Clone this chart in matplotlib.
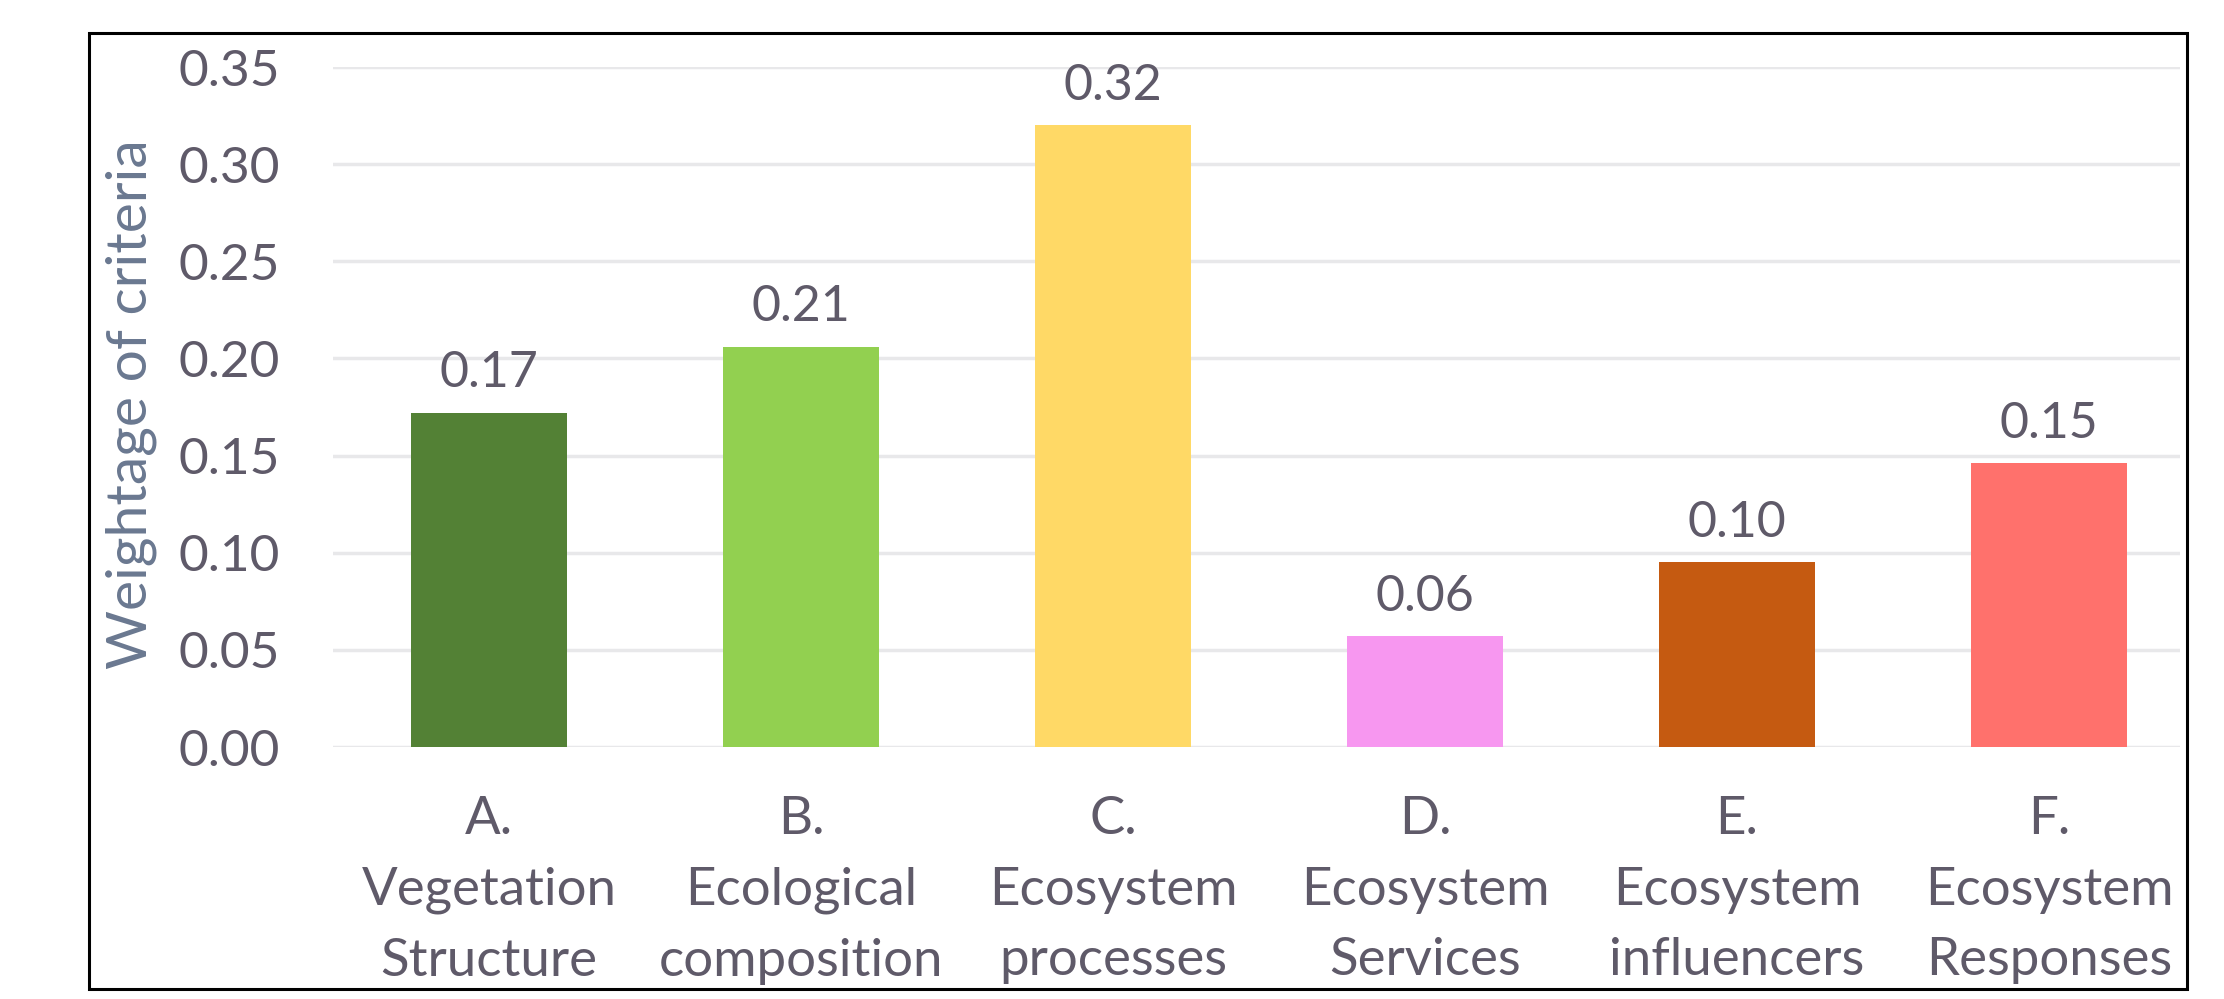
import matplotlib
matplotlib.use("Agg")
import matplotlib.pyplot as plt
from matplotlib.patches import Rectangle

categories = ["A.\nVegetation\nStructure", "B.\nEcological\ncomposition", "C.\nEcosystem\nprocesses",
              "D.\nEcosystem\nServices", "E.\nEcosystem\ninfluencers", "F.\nEcosystem\nResponses"]
values = [0.172, 0.206, 0.320, 0.057, 0.095, 0.146]
value_labels = ["0.17", "0.21", "0.32", "0.06", "0.10", "0.15"]
colors = ["#538135", "#92D050", "#FFD966", "#F797F0", "#C55A11", "#FF716C"]
yticks = [0.00, 0.05, 0.10, 0.15, 0.20, 0.25, 0.30, 0.35]

plt.rcParams['font.family'] = ['Lato', 'DejaVu Sans']
text_color = "#5F5A69"

W, H = 2224, 999
fig = plt.figure(figsize=(W / 100, H / 100), dpi=100)
fig.patch.set_facecolor("white")

# outer frame
fig.patches.append(Rectangle((89 / W, 1 - 989 / H), (2187 - 89) / W, (989 - 33) / H,
                             transform=fig.transFigure, fill=False, edgecolor="black", linewidth=2.2))

ax = fig.add_axes([333 / W, 252 / H, (2180 - 333) / W, (932 - 252) / H])
x = list(range(len(categories)))
ax.bar(x, values, width=0.5, color=colors, zorder=3)
ax.set_xlim(-0.5, 5.42)
ax.set_ylim(0, 0.35)
ax.set_yticks(yticks)
ax.set_yticklabels([f"{t:.2f}" for t in yticks])
ax.grid(axis="y", color="#E8E8EA", linewidth=2.5, zorder=0)
ax.set_axisbelow(True)
for s in ax.spines.values():
    s.set_visible(False)
ax.tick_params(axis="both", length=0, labelcolor=text_color)
ax.tick_params(axis="y", labelsize=37, pad=38)
ax.set_xticks(x)
ax.set_xticklabels(categories, fontsize=38, linespacing=1.63)
ax.tick_params(axis="x", pad=35)

for xi, v, lab in zip(x, values, value_labels):
    ax.annotate(lab, (xi, v), xytext=(0, 12), textcoords="offset points",
                ha="center", va="bottom", fontsize=36, color=text_color)

fig.text(131 / W, 1 - 404 / H, "Weightage of criteria", rotation=90, ha="center", va="center",
         fontsize=41, color="#6A7890")

fig.savefig("out.png", dpi=100)
